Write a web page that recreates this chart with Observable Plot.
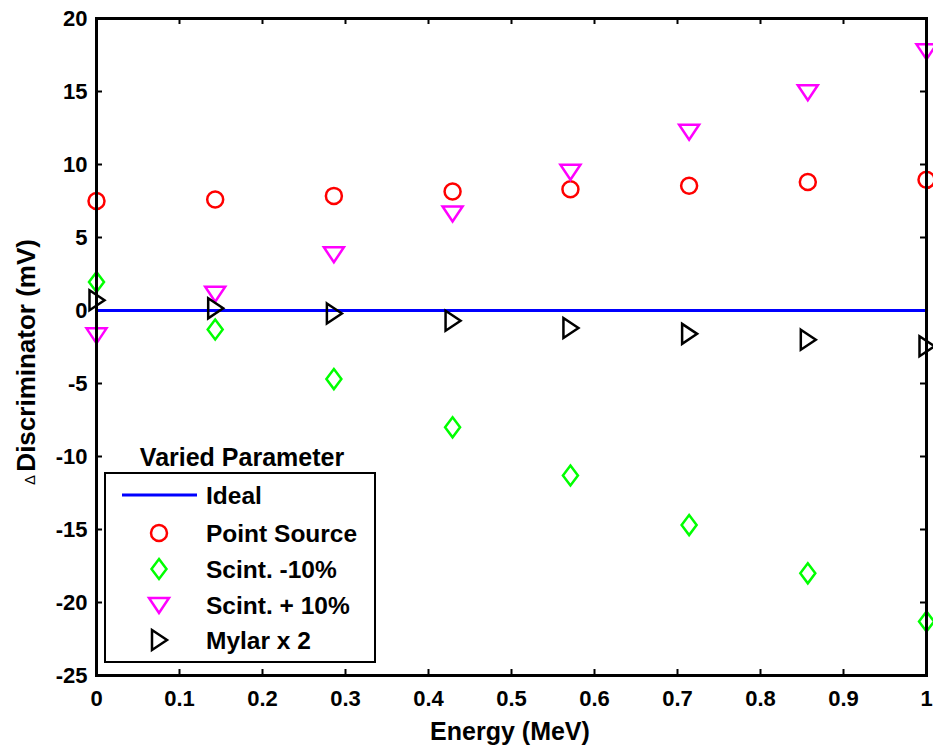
<!DOCTYPE html>
<html>
<head>
<meta charset="utf-8">
<script src="https://cdn.jsdelivr.net/npm/d3@7"></script>
<script src="https://cdn.jsdelivr.net/npm/@observablehq/plot@0.6"></script>
<style>
  body { margin: 0; background: #fff; }
</style>
</head>
<body>
<div id="chart"></div>
<script>
// Energy sampling points (MeV)
const energy = [0, 0.143, 0.286, 0.429, 0.571, 0.714, 0.857, 1.0];

// Change in discriminator level (mV) for each varied parameter
const pointSource = [7.5, 7.6, 7.85, 8.15, 8.3, 8.55, 8.8, 8.95];
const scintMinus10 = [1.95, -1.3, -4.7, -8.0, -11.3, -14.7, -18.0, -21.3];
const scintPlus10 = [-1.7, 1.15, 3.85, 6.65, 9.5, 12.25, 14.95, 17.75];
const mylarX2 = [0.7, 0.15, -0.2, -0.7, -1.2, -1.6, -2.0, -2.45];

// Ideal response: no change
const idealX = [0, 1];
const idealY = [0, 0];

// Axis ticks
const xTicks = [0, 0.1, 0.2, 0.3, 0.4, 0.5, 0.6, 0.7, 0.8, 0.9, 1];
const yTicks = [-25, -20, -15, -10, -5, 0, 5, 10, 15, 20];

const seriesNames = ["Ideal", "Point Source", "Scint. -10%", "Scint. + 10%", "Mylar x 2"];

const W = 933, H = 747;
const mL = 96, mR = 7, mT = 18, mB = 72;
const innerW = W - mL - mR, innerH = H - mT - mB;
const font = "'Liberation Sans', Arial, Helvetica, sans-serif";

// Marker shapes
const diamond = {draw(c) { c.moveTo(0, -10); c.lineTo(7.5, 0); c.lineTo(0, 10); c.lineTo(-7.5, 0); c.closePath(); }};
const triDown = {draw(c) { c.moveTo(-10, -7); c.lineTo(10, -7); c.lineTo(0, 8); c.closePath(); }};
const triRight = {draw(c) { c.moveTo(-7, -10); c.lineTo(8, 0); c.lineTo(-7, 10); c.closePath(); }};

const rows = ys => energy.map((x, i) => ({x, y: ys[i]}));
const ideal = idealX.map((x, i) => ({x, y: idealY[i]}));

const markerStyle = {x: "x", y: "y", fill: "none", strokeWidth: 2.5, r: 8};

const plot = Plot.plot({
  width: W,
  height: H,
  marginLeft: mL,
  marginRight: mR,
  marginTop: mT,
  marginBottom: mB,
  style: {fontFamily: font, fontWeight: "bold", fontSize: "22px", background: "#fff", color: "#000"},
  x: {domain: [0, 1]},
  y: {domain: [-25, 20]},
  marks: [
    Plot.axisX({ticks: xTicks, tickSize: 0, tickPadding: 15, tickFormat: d => String(d), label: null, fontSize: 22}),
    Plot.axisY({ticks: yTicks, tickSize: 0, tickPadding: 9, tickFormat: d => String(d), label: null, fontSize: 22}),
    // inward ticks on all four sides
    Plot.tickX(xTicks, {x: d => d, insetTop: innerH - 6, strokeWidth: 2, stroke: "#000"}),
    Plot.tickX(xTicks, {x: d => d, insetBottom: innerH - 6, strokeWidth: 2, stroke: "#000"}),
    Plot.tickY(yTicks, {y: d => d, insetRight: innerW - 6, strokeWidth: 2, stroke: "#000"}),
    Plot.tickY(yTicks, {y: d => d, insetLeft: innerW - 6, strokeWidth: 2, stroke: "#000"}),
    Plot.line(ideal, {x: "x", y: "y", stroke: "#0000ff", strokeWidth: 3}),
    Plot.dot(rows(pointSource), {...markerStyle, symbol: "circle", stroke: "#ff0000"}),
    Plot.dot(rows(scintMinus10), {...markerStyle, symbol: diamond, stroke: "#00ff00"}),
    Plot.dot(rows(scintPlus10), {...markerStyle, symbol: triDown, stroke: "#ff00ff"}),
    Plot.dot(rows(mylarX2), {...markerStyle, symbol: triRight, stroke: "#000000"}),
    Plot.frame({stroke: "#000", strokeWidth: 3})
  ]
});

document.getElementById("chart").append(plot);

const svg = d3.select(plot);

// Axis titles
svg.append("text")
  .attr("x", 510).attr("y", 740)
  .attr("text-anchor", "middle")
  .attr("font-family", font).attr("font-weight", "bold").attr("font-size", 25)
  .text("Energy (MeV)");

const yLab = svg.append("text")
  .attr("transform", "translate(35,362) rotate(-90)")
  .attr("text-anchor", "middle")
  .attr("font-family", font).attr("font-weight", "bold").attr("font-size", 26);
yLab.append("tspan").attr("font-size", 15).attr("font-weight", "normal").text("\u0394 ");
yLab.append("tspan").text("Discriminator (mV)");

// Legend
const lg = svg.append("g")
  .attr("font-family", font).attr("font-weight", "bold").attr("font-size", 24.5)
  .attr("text-anchor", "start");
lg.append("text").attr("x", 242).attr("y", 466).attr("text-anchor", "middle").attr("font-size", 25).text("Varied Parameter");
lg.append("rect").attr("x", 105).attr("y", 473).attr("width", 270).attr("height", 189)
  .attr("fill", "#fff").attr("stroke", "#000").attr("stroke-width", 2);

const entryY = [495, 533, 569, 605, 640];
const legendSymbols = [null, d3.symbolCircle, diamond, triDown, triRight];
const legendColors = ["#0000ff", "#ff0000", "#00ff00", "#ff00ff", "#000000"];
seriesNames.forEach((name, i) => {
  const y = entryY[i];
  if (i === 0) {
    lg.append("line").attr("x1", 122).attr("x2", 197).attr("y1", y).attr("y2", y)
      .attr("stroke", legendColors[i]).attr("stroke-width", 3);
  } else {
    lg.append("path")
      .attr("transform", `translate(159,${y})`)
      .attr("d", d3.symbol(legendSymbols[i], Math.PI * 64)())
      .attr("fill", "none").attr("stroke", legendColors[i]).attr("stroke-width", 2.5);
  }
  lg.append("text").attr("x", 206).attr("y", y).attr("dy", "0.36em").attr("text-anchor", "start").text(name);
});
</script>
</body>
</html>
